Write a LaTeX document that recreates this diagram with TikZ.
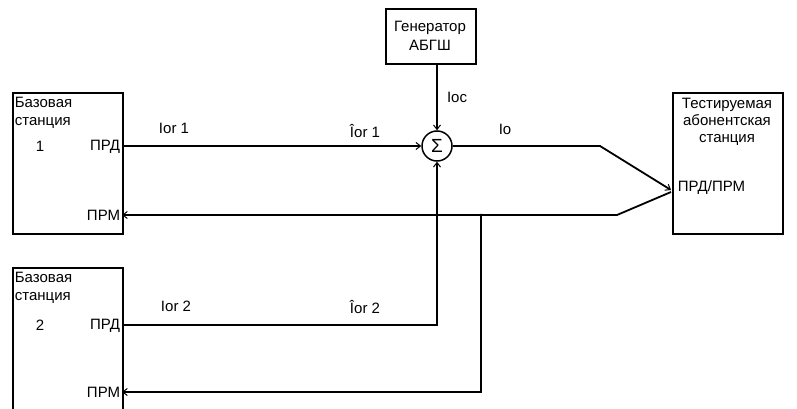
\documentclass[tikz,border=0pt]{standalone}
\usepackage{fontspec}
\setmainfont{Liberation Sans}
\usetikzlibrary{arrows.meta}
\begin{document}
\begin{tikzpicture}[x=1pt,y=-1pt,
  line width=1.8pt,
  >={Straight Barb[length=4.5pt,width=7pt,line width=1pt]},
  boxst/.style={draw,line width=1.6pt,inner sep=0pt,anchor=north west},
  txt/.style={font=\fontsize{15}{17}\selectfont,inner sep=0pt,align=left},
  lbl/.style={font=\fontsize{15}{17}\selectfont,inner sep=0pt}]
\useasboundingbox (0,0) rectangle (797,409);
\begin{scope}
\clip (0,0) rectangle (797,409);
% Base station 1
\node[boxst,minimum width=110pt,minimum height=141pt] (bs1) at (12,92) {};
\node[txt,anchor=north west] (bs1t) at (14,96) {Базовая\\[1pt]станция};
\node[txt] (bs1n) at (40,146) {1};
\node[txt,anchor=east] (bs1prdt) at (121,147) {ПРД};
\node[txt,anchor=east] (bs1prmt) at (121,215) {ПРМ};
\coordinate (bs1prd) at (122,146);
\coordinate (bs1prm) at (122,215);
% Base station 2
\node[boxst,minimum width=110pt,minimum height=170pt] (bs2) at (12,267) {};
\node[txt,anchor=north west] (bs2t) at (14,271) {Базовая\\[1pt]станция};
\node[txt] (bs2n) at (40,325) {2};
\node[txt,anchor=east] (bs2prdt) at (121,326) {ПРД};
\node[txt,anchor=east] (bs2prmt) at (121,392) {ПРМ};
\coordinate (bs2prd) at (122,325);
\coordinate (bs2prm) at (122,392);
% Generator
\node[boxst,minimum width=90pt,minimum height=55pt] (gen) at (385,8) {};
\node[txt,align=center] (gent) at (430,35.5) {Генератор\\[2pt]АБГШ};
\coordinate (genout) at (437,63);
% Sum
\node[draw,circle,line width=1.5pt,minimum size=30pt,inner sep=0pt,font=\fontsize{19}{19}\selectfont] (sum) at (437,146) {Σ};
% Tested station
\node[boxst,minimum width=110pt,minimum height=141pt] (ts) at (672,92) {};
\node[txt,align=center] (tst) at (727,122) {Тестируемая\\[0pt]абонентская\\[0pt]станция};
\node[txt,anchor=west] (tsport) at (677,188) {ПРД/ПРМ};
\coordinate (tsin) at (671,190);
\coordinate (tsout) at (671,192);
% bends
\coordinate (b1) at (600,146);
\coordinate (b2) at (617,215);
\coordinate (jn) at (481,215);
\coordinate (b3) at (481,392);
\coordinate (b4) at (437,325);
% connectors
\draw[->] (bs1prd) -- (sum.west);
\draw[->] (genout) -- (genout |- sum.north);
\draw[->] (sum.east) -- (b1) -- (tsin);
\draw[->] (tsout) -- (b2) -- (bs1prm);
\draw[->] (jn) -- (b3) -- (bs2prm);
\draw[->] (bs2prd) -- (b4) -- (b4 |- sum.south);
\fill (jn) circle (1.5pt);
% labels
\node[lbl] (l1) at (174,128) {Ior 1};
\node[lbl] (l2) at (365,131) {Îor 1};
\node[lbl] (l3) at (176,306) {Ior 2};
\node[lbl] (l4) at (365,307) {Îor 2};
\node[lbl] (l5) at (457,97) {Ioc};
\node[lbl] (l6) at (505,129) {Io};
\end{scope}
\end{tikzpicture}
\end{document}
